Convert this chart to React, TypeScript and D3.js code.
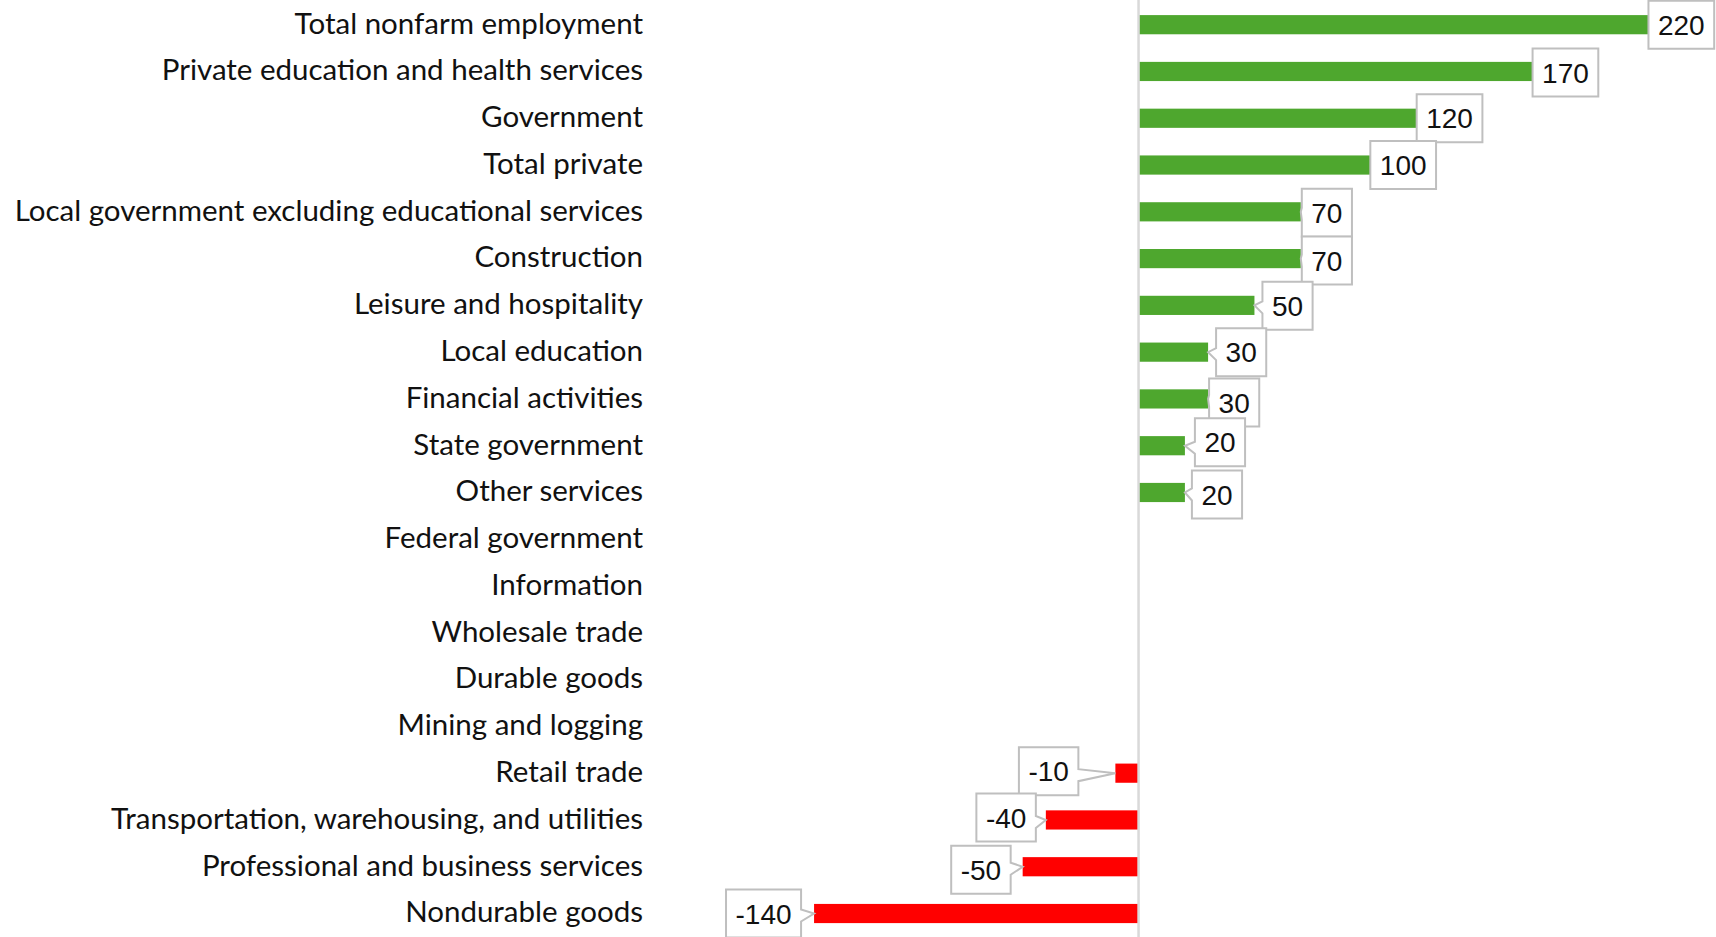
import { useEffect, useRef } from "react";
import * as d3 from "d3";

const categories = [
  "Total nonfarm employment",
  "Private education and health services",
  "Government",
  "Total private",
  "Local government excluding educational services",
  "Construction",
  "Leisure and hospitality",
  "Local education",
  "Financial activities",
  "State government",
  "Other services",
  "Federal government",
  "Information",
  "Wholesale trade",
  "Durable goods",
  "Mining and logging",
  "Retail trade",
  "Transportation, warehousing, and utilities",
  "Professional and business services",
  "Nondurable goods",
];

const values = [220, 170, 120, 100, 70, 70, 50, 30, 30, 20, 20, 0, 0, 0, 0, 0, -10, -40, -50, -140];

// callout placement tweaks (gap from bar end, vertical shift) so boxes don't collide
const calloutGap = [0, 0, 0, 0, 1, 1, 8, 8, 1, 10, 7, 0, 0, 0, 0, 0, 37, 10, 12, 13];
const calloutShift = [0, 1, 0, 0, 1, 2, 0.5, 0, 3.5, -3.5, 2, 0, 0, 0, 0, 0, -2, -2.5, 3, 0];

const W = 1716;
const H = 937;

const App = () => {
  const svgRef = useRef<SVGSVGElement>(null);

  useEffect(() => {
    const svg = d3.select(svgRef.current);
    svg.selectAll("*").remove();

    const x = d3.scaleLinear().domain([-200, 250]).range([675, 1718]);
    const y = d3
      .scaleBand()
      .domain(categories)
      .range([1.3, 936.9])
      .paddingInner(0.59)
      .paddingOuter(0.295);

    const rows = categories.map((c, i) => ({ c, v: values[i], i }));

    // category labels
    svg.append("g")
      .selectAll("text")
      .data(rows)
      .join("text")
      .attr("x", 643)
      .attr("y", (d) => y(d.c)! + y.bandwidth() / 2 - 1.5)
      .attr("dy", "0.35em")
      .attr("text-anchor", "end")
      .attr("font-family", "Lato, 'Noto Sans', sans-serif")
      .attr("font-size", 29.5)
      .attr("fill", "#111")
      .text((d) => d.c);

    // bars
    svg.append("g")
      .selectAll("rect")
      .data(rows.filter((d) => d.v !== 0))
      .join("rect")
      .attr("x", (d) => x(Math.min(0, d.v)))
      .attr("width", (d) => Math.abs(x(d.v) - x(0)))
      .attr("y", (d) => y(d.c)!)
      .attr("height", y.bandwidth())
      .attr("fill", (d) => (d.v >= 0 ? "#4ea72e" : "#ff0000"));

    // zero line
    svg.append("line")
      .attr("x1", x(0))
      .attr("x2", x(0))
      .attr("y1", 0)
      .attr("y2", H)
      .attr("stroke", "#d9d9d9")
      .attr("stroke-width", 2.5);

    // data callouts
    const cg = svg.append("g");
    rows.filter((d) => d.v !== 0).forEach((d) => {
      const tipX = x(d.v);
      const tipY = y(d.c)! + y.bandwidth() / 2;
      const g = cg.append("g");
      const t = g.append("text")
        .attr("font-family", "'Liberation Sans', Arial, sans-serif")
        .attr("font-size", 28)
        .attr("fill", "#111")
        .attr("text-anchor", "middle")
        .attr("dy", "0.36em")
        .text(d.v);
      const tw = (t.node() as SVGTextElement).getComputedTextLength();
      const bw = tw + 19;
      const bh = 48;
      const gap = calloutGap[d.i];
      const cy = tipY + calloutShift[d.i];
      const top = cy - bh / 2;
      const bot = cy + bh / 2;
      const left = d.v > 0 ? tipX + gap : tipX - gap - bw;
      const right = left + bw;
      const b1 = Math.max(top + 2, Math.min(bot - 14, tipY - 4));
      const b2 = b1 + 12;
      let path;
      if (d.v > 0) {
        path = `M${left},${top}H${right}V${bot}H${left}V${b2}L${tipX},${tipY}L${left},${b1}Z`;
      } else {
        path = `M${left},${top}H${right}V${b1}L${tipX},${tipY}L${right},${b2}V${bot}H${left}Z`;
      }
      g.insert("path", "text")
        .attr("d", path)
        .attr("fill", "#fff")
        .attr("stroke", "#bfbfbf")
        .attr("stroke-width", 2)
        .attr("stroke-linejoin", "miter");
      t.attr("x", (left + right) / 2).attr("y", cy);
    });
  }, []);

  return (
    <svg
      ref={svgRef}
      width={W}
      height={H}
      style={{ position: "absolute", left: 0, top: 0, background: "#fff" }}
    />
  );
};

export default App;
